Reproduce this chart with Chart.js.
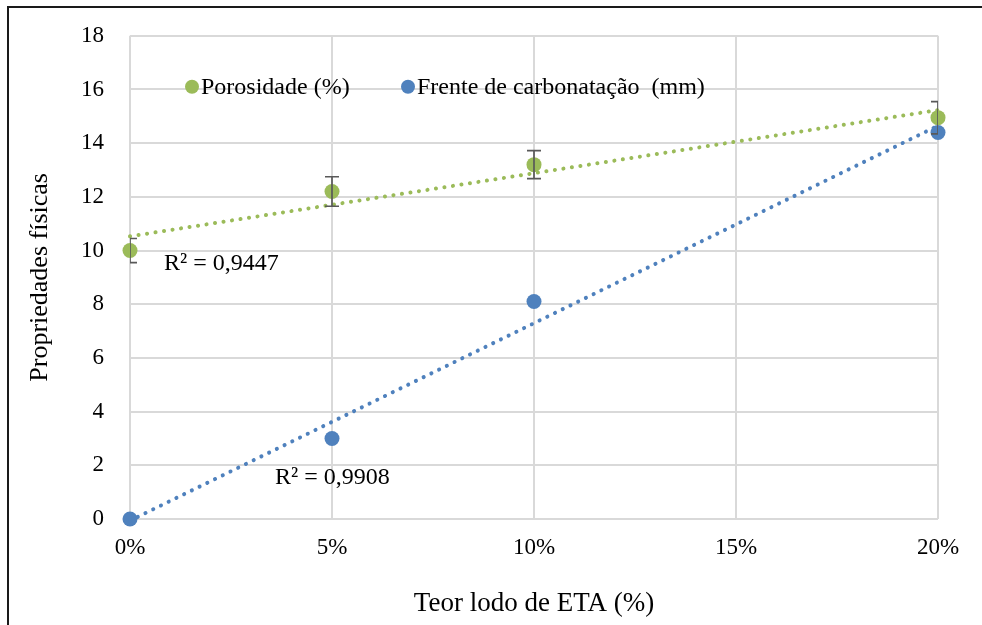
<!DOCTYPE html>
<html>
<head>
<meta charset="utf-8">
<script src="https://cdn.jsdelivr.net/npm/chart.js@4/dist/chart.umd.min.js"></script>
<style>
  html, body { margin: 0; padding: 0; background: #ffffff; }
  #wrap { position: relative; width: 982px; height: 625px; overflow: hidden; }
  #frame { position: absolute; left: 7px; top: 6px; width: 1000px; height: 700px;
           border-left: 2px solid #1a1a1a; border-top: 2px solid #1a1a1a; box-sizing: border-box; }
  canvas { position: absolute; left: 0; top: -4px; }
</style>
</head>
<body>
<div id="wrap">
  <div id="frame"></div>
  <canvas id="c" width="982" height="629"></canvas>
</div>
<script>
// ---- data ----
const xValues = [0, 5, 10, 20];                  // Teor lodo de ETA (%)
const porosidade = [10.0, 12.2, 13.2, 14.95];   // Porosidade (%)
const porosidadeErr = [0.45, 0.55, 0.52, 0.6];  // error bars
const carbonatacao = [0.0, 3.0, 8.1, 14.4];     // Frente de carbonatação (mm)
const xTicks = [0, 5, 10, 15, 20];
const yTicks = [0, 2, 4, 6, 8, 10, 12, 14, 16, 18];
const seriesNames = ['Porosidade (%)', 'Frente de carbonatação  (mm)'];
const r2Labels = ['R² = 0,9447', 'R² = 0,9908'];
const r2Positions = [[0.84, 9.5], [3.59, 1.53]];

const GREEN = '#9BBB59';
const BLUE = '#4F81BD';
const FONT = "'Liberation Serif', 'Times New Roman', serif";

// least-squares linear trendline (as in the spreadsheet trendline)
function trend(xs, ys) {
  const n = xs.length;
  const mx = xs.reduce((a, b) => a + b, 0) / n;
  const my = ys.reduce((a, b) => a + b, 0) / n;
  let sxy = 0, sxx = 0;
  for (let i = 0; i < n; i++) { sxy += (xs[i] - mx) * (ys[i] - my); sxx += (xs[i] - mx) ** 2; }
  const b = sxy / sxx, a = my - b * mx;
  const x0 = xTicks[0], x1 = xTicks[xTicks.length - 1];
  return [{ x: x0, y: a + b * x0 }, { x: x1, y: a + b * x1 }];
}
const pts = (ys) => xValues.map((x, i) => ({ x: x, y: ys[i] }));

const errorBarPlugin = {
  id: 'errorBars',
  afterDatasetsDraw(chart) {
    const { ctx, chartArea, scales } = chart;
    ctx.save();
    ctx.beginPath();
    ctx.rect(chartArea.left, chartArea.top - 20, chartArea.right - chartArea.left, chartArea.bottom - chartArea.top + 40);
    ctx.clip();
    ctx.strokeStyle = '#595959';
    ctx.lineWidth = 1.7;
    xValues.forEach((x, i) => {
      const px = scales.x.getPixelForValue(x);
      const top = scales.y.getPixelForValue(porosidade[i] + porosidadeErr[i]);
      const bot = scales.y.getPixelForValue(porosidade[i] - porosidadeErr[i]);
      ctx.beginPath();
      ctx.moveTo(px, top); ctx.lineTo(px, bot);
      ctx.moveTo(px - 7, top); ctx.lineTo(px + 7, top);
      ctx.moveTo(px - 7, bot); ctx.lineTo(px + 7, bot);
      ctx.stroke();
    });
    ctx.restore();
  }
};

const annotPlugin = {
  id: 'annot',
  afterDraw(chart) {
    const { ctx, chartArea, scales } = chart;
    ctx.save();
    ctx.font = '24px ' + FONT;
    ctx.fillStyle = '#000';
    ctx.textBaseline = 'middle';
    ctx.textAlign = 'left';
    // legend inside plot
    const ly = chartArea.top + 51;
    const items = [[chartArea.left + 62, GREEN, seriesNames[0]], [chartArea.left + 278, BLUE, seriesNames[1]]];
    items.forEach(([lx, col, txt]) => {
      ctx.beginPath();
      ctx.fillStyle = col;
      ctx.arc(lx, ly, 7, 0, Math.PI * 2);
      ctx.fill();
      ctx.fillStyle = '#000';
      ctx.fillText(txt, lx + 9, ly + 1);
    });
    // R² labels
    r2Labels.forEach((t, i) => {
      const px = scales.x.getPixelForValue(r2Positions[i][0]);
      const py = scales.y.getPixelForValue(r2Positions[i][1]);
      ctx.fillText(t, px, py);
    });
    ctx.restore();
  }
};

new Chart(document.getElementById('c'), {
  type: 'scatter',
  data: {
    datasets: [
      { label: seriesNames[0] + ' trend', type: 'line', data: trend(xValues, porosidade),
        borderColor: GREEN, borderWidth: 4, borderDash: [0.1, 8.5], borderCapStyle: 'round',
        pointRadius: 0, fill: false, order: 1, clip: false },
      { label: seriesNames[1] + ' trend', type: 'line', data: trend(xValues, carbonatacao),
        borderColor: BLUE, borderWidth: 4, borderDash: [0.1, 8.5], borderCapStyle: 'round',
        pointRadius: 0, fill: false, order: 1, clip: false },
      { label: seriesNames[0], data: pts(porosidade), backgroundColor: GREEN, borderColor: GREEN,
        pointRadius: 7.5, borderWidth: 0, order: 2, clip: false },
      { label: seriesNames[1], data: pts(carbonatacao), backgroundColor: BLUE, borderColor: BLUE,
        pointRadius: 7.5, borderWidth: 0, order: 2, clip: false }
    ]
  },
  options: {
    responsive: false,
    animation: false,
    layout: { padding: { left: 0, right: 44, top: 12, bottom: 0 } },
    plugins: { legend: { display: false }, tooltip: { enabled: false } },
    scales: {
      x: {
        type: 'linear', min: 0, max: 20,
        afterBuildTicks: (s) => { s.ticks = xTicks.map(v => ({ value: v })); },
        afterFit: (s) => { s.height = 106; },
        ticks: { callback: (v) => v + '%', color: '#000', font: { family: FONT, size: 23 }, padding: 15, maxRotation: 0 },
        grid: { color: '#d9d9d9', lineWidth: 2, drawTicks: false },
        border: { display: false },
        title: { display: true, text: 'Teor lodo de ETA (%)', color: '#000', font: { family: FONT, size: 27 }, padding: { top: 0, bottom: 5 } }
      },
      y: {
        min: 0, max: 18,
        afterBuildTicks: (s) => { s.ticks = yTicks.map(v => ({ value: v })); },
        afterFit: (s) => { s.width = 130; },
        ticks: { color: '#000', font: { family: FONT, size: 23 }, padding: 26 },
        grid: { color: '#d9d9d9', lineWidth: 2, drawTicks: false },
        border: { display: false },
        title: { display: true, text: 'Propriedades físicas', color: '#000', font: { family: FONT, size: 26 }, padding: { top: 25, bottom: 0 } }
      }
    }
  },
  plugins: [errorBarPlugin, annotPlugin]
});
</script>
</body>
</html>
